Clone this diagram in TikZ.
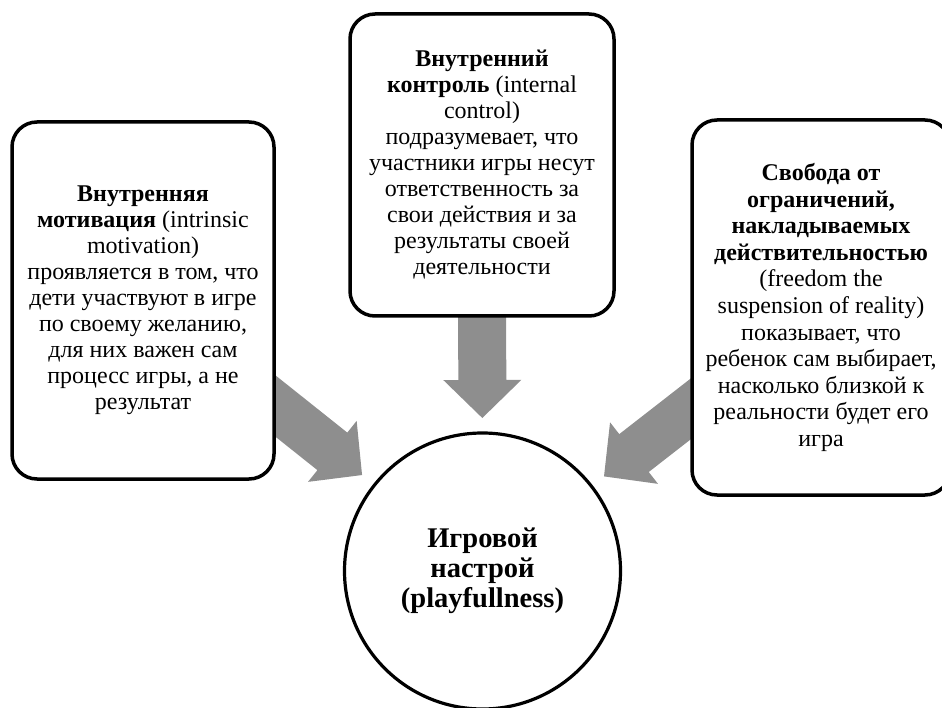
\documentclass[tikz,border=0pt]{standalone}
\usepackage{fontspec}
\setmainfont{Liberation Serif}
\usetikzlibrary{calc,backgrounds}
\definecolor{arrowgray}{RGB}{142,142,142}
\newcommand{\fatarrow}[2]{%
  \path[fill=arrowgray] let \p1=($(#2)-(#1)$), \n1={atan2(\y1,\x1)}, \n2={veclen(\x1,\y1)} in
    [shift={(#2)}, rotate=\n1] (0,0) -- (-38,39) -- (-38,24) -- (-\n2,24) -- (-\n2,-24) -- (-38,-24) -- (-38,-39) -- cycle;}
\tikzset{
  textbox/.style={draw, line width=3.5pt, rounded corners=25pt, fill=white, align=center,
    inner sep=0pt, font=\fontsize{24}{26}\selectfont},
  hub/.style={draw, circle, line width=3.2pt, fill=white, align=center, inner sep=0pt,
    font=\fontsize{28.5}{30}\selectfont\bfseries}
}
\begin{document}
\begin{tikzpicture}[x=1pt,y=-1pt]
\useasboundingbox (0,0) rectangle (942,708);
\clip (0,0) rectangle (942,708);
\node[textbox, minimum width=262pt, minimum height=357pt] (motiv) at (143,300.5)
  {\textbf{Внутренняя}\\ \textbf{мотивация} (intrinsic\\ motivation)\\ проявляется в том, что\\ дети участвуют в игре\\ по своему желанию,\\ для них важен сам\\ процесс игры, а не\\ результат};
\node[textbox, minimum width=264pt, minimum height=302pt] (ctrl) at (482,165)
  {\textbf{Внутренний}\\ \textbf{контроль} (internal\\ control)\\ подразумевает, что\\ участники игры несут\\ ответственность за\\ свои действия и за\\ результаты своей\\ деятельности};
\node[textbox, minimum width=258pt, minimum height=375pt, font=\fontsize{24}{26.6}\selectfont] (free) at (821,307.5)
  {\textbf{Свобода от}\\ \textbf{ограничений,}\\ \textbf{накладываемых}\\ \textbf{действительностью}\\ (freedom the\\ suspension of reality)\\ показывает, что\\ ребенок сам выбирает,\\ насколько близкой к\\ реальности будет его\\ игра};
\node[hub, minimum size=276pt] (play) at (482.5,571)
  {Игровой\\ настрой\\ (playfullness)};
\coordinate (tipL) at ($(play.center)!154pt!(motiv.center)$);
\coordinate (tipC) at ($(play.center)!153pt!(ctrl.center)$);
\coordinate (tipR) at ($(play.center)!154pt!(free.center)$);
\begin{scope}[on background layer]
  \fatarrow{motiv.center}{tipL}
  \fatarrow{ctrl.center}{tipC}
  \fatarrow{free.center}{tipR}
\end{scope}
\end{tikzpicture}
\end{document}
